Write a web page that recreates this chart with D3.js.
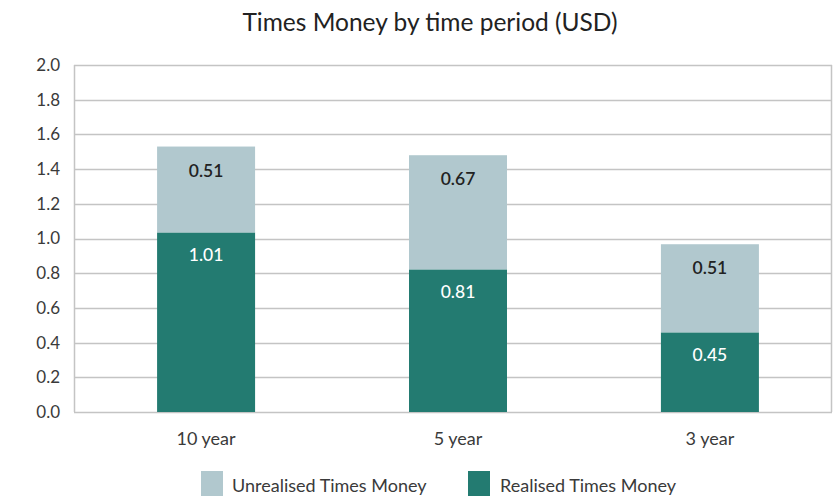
<!DOCTYPE html>
<html><head><meta charset="utf-8">
<script src="https://cdn.jsdelivr.net/npm/d3@7"></script>
<style>body{margin:0;background:#fff;}svg{display:block;font-family:Lato,"Open Sans",sans-serif;}</style>
</head><body>
<svg id="c" width="835" height="496"></svg>
<script>
const categories = ["10 year", "5 year", "3 year"];
const realised = [1.035, 0.822, 0.459];
const unrealised = [0.495, 0.658, 0.508];
const realisedLabels = ["1.01", "0.81", "0.45"];
const unrealisedLabels = ["0.51", "0.67", "0.51"];
const yTicks = [0, 0.2, 0.4, 0.6, 0.8, 1.0, 1.2, 1.4, 1.6, 1.8, 2.0];
const seriesNames = ["Unrealised Times Money", "Realised Times Money"];
const colors = {unrealised: "#b1c8ce", realised: "#237b71"};

const svg = d3.select("#c");
const m = {left: 74, right: 3, top: 65, bottom: 84};
const W = 835, H = 496;
const x = d3.scaleBand().domain(categories).range([80, 836]).paddingInner(0.611).paddingOuter(0.306);
const y = d3.scaleLinear().domain([0, 2]).range([H - m.bottom, m.top]);

svg.append("text").attr("x", 430).attr("y", 31).attr("text-anchor", "middle")
  .attr("font-size", 24.5).attr("fill", "#222").text("Times Money by time period (USD)");

// gridlines
svg.append("g").selectAll("line").data(yTicks).join("line")
  .attr("x1", m.left).attr("x2", W - m.right)
  .attr("y1", d => Math.round(y(d)) + 0.5).attr("y2", d => Math.round(y(d)) + 0.5)
  .attr("stroke", "#c4c4c4").attr("stroke-width", 1.5);
// border sides
svg.append("line").attr("x1", m.left + 0.5).attr("x2", m.left + 0.5).attr("y1", y(2)).attr("y2", y(0))
  .attr("stroke", "#c4c4c4").attr("stroke-width", 1.5);
svg.append("line").attr("x1", W - m.right - 0.5).attr("x2", W - m.right - 0.5).attr("y1", y(2)).attr("y2", y(0))
  .attr("stroke", "#c4c4c4").attr("stroke-width", 1.5);

// y axis labels
const yAxis = d3.axisLeft(y).tickValues(yTicks).tickFormat(d3.format(".1f")).tickSize(0).tickPadding(14);
const gy = svg.append("g").attr("transform", `translate(${m.left},0)`).call(yAxis);
gy.select(".domain").remove();
gy.selectAll("text").attr("font-size", 17).attr("fill", "#3a3a3a").attr("font-family", "Lato,sans-serif");

// x axis labels
const xAxis = d3.axisBottom(x).tickSize(0).tickPadding(20);
const gx = svg.append("g").attr("transform", `translate(0,${y(0)})`).call(xAxis);
gx.select(".domain").remove();
gx.selectAll("text").attr("font-size", 18).attr("fill", "#3a3a3a").attr("font-family", "Lato,sans-serif");

// bars
const g = svg.append("g");
categories.forEach((c, i) => {
  const r = realised[i], u = unrealised[i];
  g.append("rect").attr("x", x(c)).attr("width", x.bandwidth())
    .attr("y", y(r)).attr("height", y(0) - y(r)).attr("fill", colors.realised);
  g.append("rect").attr("x", x(c)).attr("width", x.bandwidth())
    .attr("y", y(r + u)).attr("height", y(r) - y(r + u)).attr("fill", colors.unrealised);
  g.append("text").attr("x", x(c) + x.bandwidth() / 2).attr("y", y(r + u) + 30)
    .attr("text-anchor", "middle").attr("font-size", 17.5).attr("font-weight", 600)
    .attr("fill", "#222").text(unrealisedLabels[i]);
  g.append("text").attr("x", x(c) + x.bandwidth() / 2).attr("y", y(r) + 29)
    .attr("text-anchor", "middle").attr("font-size", 17.5).attr("font-weight", 500)
    .attr("fill", "#fff").text(realisedLabels[i]);
});

// legend
const legend = [{name: seriesNames[0], color: colors.unrealised, x: 201, tx: 232},
                {name: seriesNames[1], color: colors.realised, x: 468, tx: 500}];
const lg = svg.append("g").selectAll("g").data(legend).join("g");
lg.append("rect").attr("x", d => d.x).attr("y", 471).attr("width", 22).attr("height", 25).attr("fill", d => d.color);
lg.append("text").attr("x", d => d.tx).attr("y", 492).attr("font-size", 18).attr("fill", "#3a3a3a")
  .text(d => d.name);
</script>
</body></html>
